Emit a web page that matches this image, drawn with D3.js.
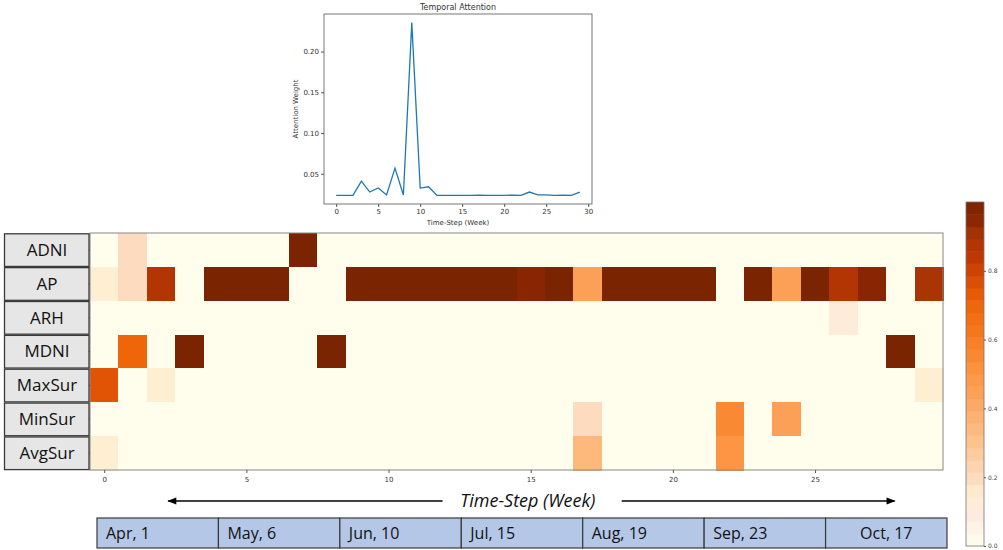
<!DOCTYPE html>
<html>
<head>
<meta charset="utf-8">
<script src="https://cdn.jsdelivr.net/npm/d3@7"></script>
<style>
  body { margin: 0; background: #fff; }
  svg { display: block; }
  .tick text { font-family: "DejaVu Sans", sans-serif; }
</style>
</head>
<body>
<div id="graph"></div>
<script>
"use strict";

// ---- data ----
var weeks = d3.range(30);
var attention = [0.0235, 0.0235, 0.0235, 0.041, 0.0276, 0.0325, 0.024, 0.057, 0.024, 0.2355,
                 0.0325, 0.034, 0.0235, 0.0235, 0.0235, 0.0235, 0.0235, 0.0238, 0.0235, 0.0235,
                 0.0235, 0.0238, 0.0235, 0.0276, 0.024, 0.024, 0.0235, 0.0238, 0.0235, 0.0276];

var features = ["ADNI", "AP", "ARH", "MDNI", "MaxSur", "MinSur", "AvgSur"];
var adni   = [0,0.2,0,0,0,0,0,1,0,0, 0,0,0,0,0,0,0,0,0,0, 0,0,0,0,0,0,0,0,0,0];
var ap     = [0.15,0.2,0.87,0,1,1,1,0,0,1, 1,1,1,1,1,0.95,1,0.45,1,1, 1,1,0,1,0.45,1,0.87,0.95,0,0.9];
var arh    = [0,0,0,0,0,0,0,0,0,0, 0,0,0,0,0,0,0,0,0,0, 0,0,0,0,0,0,0.12,0,0,0];
var mdni   = [0,0.7,0,1,0,0,0,0,1,0, 0,0,0,0,0,0,0,0,0,0, 0,0,0,0,0,0,0,0,1,0];
var maxSur = [0.75,0,0.15,0,0,0,0,0,0,0, 0,0,0,0,0,0,0,0,0,0, 0,0,0,0,0,0,0,0,0,0.15];
var minSur = [0,0,0,0,0,0,0,0,0,0, 0,0,0,0,0,0,0,0.2,0,0, 0,0,0.55,0,0.45,0,0,0,0,0];
var avgSur = [0.15,0,0,0,0,0,0,0,0,0, 0,0,0,0,0,0,0,0.35,0,0, 0,0,0.5,0,0,0,0,0,0,0];
var rows = [adni, ap, arh, mdni, maxSur, minSur, avgSur];

var colorTicks = [0, 0.2, 0.4, 0.6, 0.8];
var monthLabels = ["Apr, 1", "May, 6", "Jun, 10", "Jul, 15", "Aug, 19", "Sep, 23", "Oct, 17"];

// colour map sampled from the colour bar
var cmapStops = [0, 0.1, 0.15, 0.2, 0.3, 0.4, 0.5, 0.6, 0.7, 0.75, 0.85, 0.9, 0.95, 1];
var cmapColors = ["#fffeec", "#fee9dd", "#feeed2", "#fddbbe", "#fdc48e", "#fdab6a", "#fd9544",
                  "#f77d22", "#ef660a", "#e25405", "#bb3503", "#a83503", "#8a2503", "#7a2402"];

var W = 1003, H = 550;
var svg = d3.select("#graph").append("svg").attr("width", W).attr("height", H);

// ---------- top line chart ----------
var lc = {left: 324, right: 592, top: 14, bottom: 204};
var xPad = (weeks.length - 1) * 0.05;
var lx = d3.scaleLinear().domain([-xPad, weeks.length - 1 + xPad]).range([lc.left, lc.right]);
var ext = d3.extent(attention);
var yPad = (ext[1] - ext[0]) * 0.05;
var ly = d3.scaleLinear().domain([ext[0] - yPad, ext[1] + yPad]).range([lc.bottom, lc.top]);

var lg = svg.append("g");
lg.append("g")
    .attr("transform", "translate(0," + lc.bottom + ")")
    .call(d3.axisBottom(lx).tickValues([0, 5, 10, 15, 20, 25, 30]).tickSize(3).tickPadding(2))
    .call(function(g) { g.select(".domain").remove(); })
    .selectAll("text").attr("font-size", 7).attr("fill", "#333");
lg.append("g")
    .attr("transform", "translate(" + lc.left + ",0)")
    .call(d3.axisLeft(ly).tickValues([0.05, 0.10, 0.15, 0.20]).tickFormat(d3.format(".2f")).tickSize(3).tickPadding(2))
    .call(function(g) { g.select(".domain").remove(); })
    .selectAll("text").attr("font-size", 7).attr("fill", "#333");
lg.selectAll(".tick line").attr("stroke", "#555");

lg.append("rect")
    .attr("x", lc.left).attr("y", lc.top)
    .attr("width", lc.right - lc.left).attr("height", lc.bottom - lc.top)
    .attr("fill", "none").attr("stroke", "#555").attr("stroke-width", 0.8);

lg.append("path")
    .datum(attention)
    .attr("fill", "none")
    .attr("stroke", "#1f77b4")
    .attr("stroke-width", 1.3)
    .attr("d", d3.line().x(function(d, i) { return lx(i); }).y(function(d) { return ly(d); }));

lg.append("text")
    .attr("x", (lc.left + lc.right) / 2).attr("y", 10)
    .attr("text-anchor", "middle")
    .attr("font-family", "DejaVu Sans, sans-serif").attr("font-size", 8).attr("fill", "#333")
    .text("Temporal Attention");
lg.append("text")
    .attr("x", (lc.left + lc.right) / 2).attr("y", 225)
    .attr("text-anchor", "middle")
    .attr("font-family", "DejaVu Sans, sans-serif").attr("font-size", 7).attr("fill", "#333")
    .text("Time-Step (Week)");
lg.append("text")
    .attr("transform", "translate(298," + ((lc.top + lc.bottom) / 2) + ") rotate(-90)")
    .attr("text-anchor", "middle")
    .attr("font-family", "DejaVu Sans, sans-serif").attr("font-size", 7).attr("fill", "#333")
    .text("Attention Weight");

// ---------- heatmap ----------
var hm = {left: 90, right: 943, top: 233, bottom: 470};
var color = d3.scaleLinear().domain(cmapStops).range(cmapColors).clamp(true);
var hx = d3.scaleBand().domain(weeks).range([hm.left, hm.right]);
var hy = d3.scaleBand().domain(features).range([hm.top, hm.bottom]);
var hxl = d3.scaleLinear().domain([-0.5, weeks.length - 0.5]).range([hm.left, hm.right]);

var cells = [];
rows.forEach(function(r, ri) {
  r.forEach(function(v, ci) { cells.push({f: features[ri], w: ci, v: v}); });
});

var hg = svg.append("g");
hg.selectAll("rect.cell")
  .data(cells)
  .enter().append("rect")
    .attr("class", "cell")
    .attr("x", function(d) { return hx(d.w); })
    .attr("y", function(d) { return hy(d.f); })
    .attr("width", hx.bandwidth() + 1)
    .attr("height", hy.bandwidth() + 1)
    .attr("shape-rendering", "crispEdges")
    .attr("fill", function(d) { return color(d.v); });

hg.append("rect")
    .attr("x", hm.left).attr("y", hm.top)
    .attr("width", hm.right - hm.left).attr("height", hm.bottom - hm.top)
    .attr("fill", "none").attr("stroke", "#888").attr("stroke-width", 1);

hg.append("g")
    .attr("transform", "translate(0," + hm.bottom + ")")
    .call(d3.axisBottom(hxl).tickValues([0, 5, 10, 15, 20, 25]).tickFormat(d3.format("d")).tickSize(3).tickPadding(4))
    .call(function(g) { g.select(".domain").remove(); })
    .call(function(g) { g.selectAll("line").attr("stroke", "#555"); })
    .selectAll("text").attr("font-size", 7).attr("fill", "#333");

hg.append("g")
    .attr("transform", "translate(" + hm.left + ",0)")
    .call(d3.axisLeft(hy).tickSize(2).tickFormat(""))
    .call(function(g) { g.select(".domain").remove(); })
    .selectAll("line").attr("stroke", "#555");

// row label boxes
var lb = hg.selectAll("g.lab")
  .data(features)
  .enter().append("g")
    .attr("class", "lab")
    .attr("transform", function(d) { return "translate(4," + hy(d) + ")"; });
lb.append("rect")
    .attr("x", 0.5).attr("y", 0.8)
    .attr("width", hm.left - 5.5).attr("height", hy.bandwidth() - 1.2)
    .attr("fill", "#e6e6e6").attr("stroke", "#3a3a3a").attr("stroke-width", 1.3);
lb.append("text")
    .attr("x", (hm.left - 4) / 2).attr("y", hy.bandwidth() / 2 + 6)
    .attr("text-anchor", "middle")
    .attr("font-family", "Open Sans, sans-serif").attr("font-size", 17).attr("fill", "#111")
    .text(function(d) { return d; });

// ---------- colour bar ----------
var cb = {left: 966, right: 984, top: 202, bottom: 546};
var cy = d3.scaleLinear().domain([0, 1]).range([cb.bottom, cb.top]);
var nBands = 28;
var cg = svg.append("g");
cg.selectAll("rect.band")
  .data(d3.range(nBands))
  .enter().append("rect")
    .attr("class", "band")
    .attr("x", cb.left)
    .attr("y", function(i) { return cy((i + 1) / nBands); })
    .attr("width", cb.right - cb.left)
    .attr("height", cy(0) - cy(1 / nBands) + 0.5)
    .attr("fill", function(i) { return color((i + 0.5) / nBands); });
cg.append("rect")
    .attr("x", cb.left).attr("y", cb.top)
    .attr("width", cb.right - cb.left).attr("height", cb.bottom - cb.top)
    .attr("fill", "none").attr("stroke", "#777").attr("stroke-width", 0.8);
cg.append("g")
    .attr("transform", "translate(" + cb.right + ",0)")
    .call(d3.axisRight(cy).tickValues(colorTicks).tickFormat(d3.format(".1f")).tickSize(2).tickPadding(2))
    .call(function(g) { g.select(".domain").remove(); })
    .call(function(g) { g.selectAll("line").attr("stroke", "#555"); })
    .selectAll("text").attr("font-size", 6).attr("fill", "#444");

// ---------- time-step caption with arrows ----------
svg.append("defs").append("marker")
    .attr("id", "head")
    .attr("viewBox", "0 0 10 10")
    .attr("refX", 9).attr("refY", 5)
    .attr("markerWidth", 7).attr("markerHeight", 6)
    .attr("orient", "auto-start-reverse")
  .append("path")
    .attr("d", "M0,1 L10,5 L0,9 Z")
    .attr("fill", "#000");

var capY = 501;
svg.append("text")
    .attr("x", hxl(14.9)).attr("y", capY + 6)
    .attr("text-anchor", "middle")
    .attr("font-family", "Open Sans, sans-serif").attr("font-style", "italic")
    .attr("font-size", 18).attr("fill", "#111")
    .text("Time-Step (Week)");
svg.append("line")
    .attr("x1", hxl(11.9)).attr("x2", hxl(2.25))
    .attr("y1", capY).attr("y2", capY)
    .attr("stroke", "#000").attr("stroke-width", 1.5)
    .attr("marker-end", "url(#head)");
svg.append("line")
    .attr("x1", hxl(18.2)).attr("x2", hxl(27.8))
    .attr("y1", capY).attr("y2", capY)
    .attr("stroke", "#000").attr("stroke-width", 1.5)
    .attr("marker-end", "url(#head)");

// ---------- month strip ----------
var ms = {left: 97, right: 947, top: 518, bottom: 548};
var mx = d3.scaleBand().domain(monthLabels).range([ms.left, ms.right]);
var mg = svg.selectAll("g.month")
  .data(monthLabels)
  .enter().append("g")
    .attr("class", "month")
    .attr("transform", function(d) { return "translate(" + mx(d) + "," + ms.top + ")"; });
mg.append("rect")
    .attr("width", mx.bandwidth()).attr("height", ms.bottom - ms.top)
    .attr("fill", "#b4c7e7").attr("stroke", "#3a3a3a").attr("stroke-width", 1.2);
mg.append("text")
    .attr("x", function(d, i) { return i === monthLabels.length - 1 ? mx.bandwidth() / 2 : 9; })
    .attr("y", (ms.bottom - ms.top) / 2 + 6)
    .attr("text-anchor", function(d, i) { return i === monthLabels.length - 1 ? "middle" : "start"; })
    .attr("font-family", "Open Sans, sans-serif").attr("font-size", 16).attr("fill", "#111")
    .text(function(d) { return d; });
</script>
</body>
</html>
